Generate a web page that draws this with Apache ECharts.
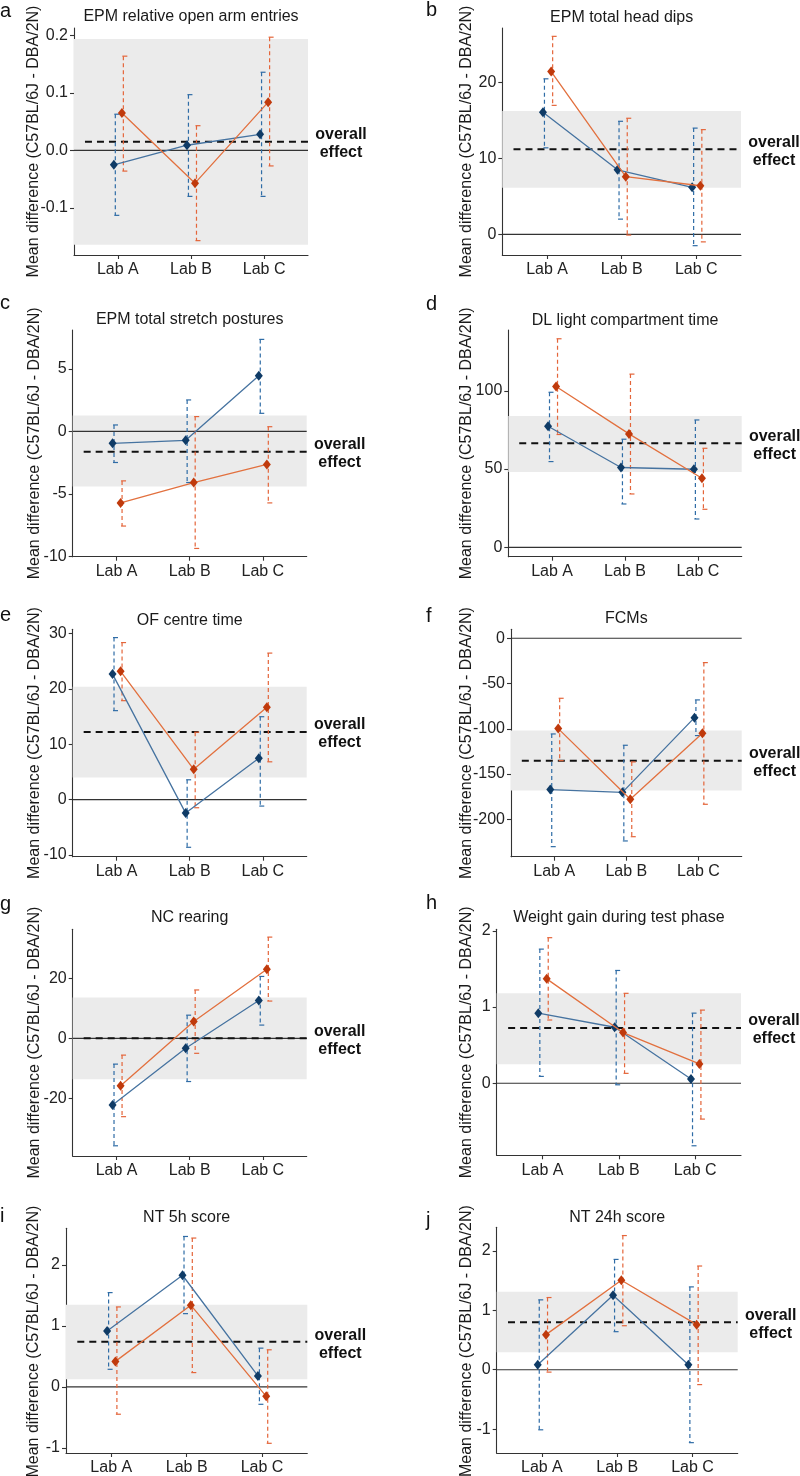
<!DOCTYPE html>
<html><head><meta charset="utf-8">
<script src="https://cdn.jsdelivr.net/npm/echarts@6/dist/echarts.min.js"></script>
<style>html,body{margin:0;padding:0;background:#fff}#c{width:800px;height:1476px}</style>
</head><body><div id="c"></div>
<script>
// ---------------- DATA ----------------
const labs = ['Lab A', 'Lab B', 'Lab C'];
const panelLetters = ['a','b','c','d','e','f','g','h','i','j'];
const panelTitles = ['EPM relative open arm entries','EPM total head dips','EPM total stretch postures',
  'DL light compartment time','OF centre time','FCMs','NC rearing','Weight gain during test phase',
  'NT 5h score','NT 24h score'];
const yAxisTitle = 'Mean difference (C57BL/6J - DBA/2N)';
const overallLabel = 'overall\neffect';

const blueMean = [[-0.025,0.009,0.028],[16.1,8.5,6.2],[-0.96,-0.72,4.44],[77.4,51.0,49.9],[22.7,-2.42,7.5],
  [-167.2,-170.2,-87.7],[-22.2,-3.3,12.6],[0.92,0.735,0.057],[0.916,1.83,0.179],[0.084,1.253,0.084]];
const blueLow = [[-0.113,-0.080,-0.080],[11.4,2.0,-1.5],[-2.49,-4.09,1.44],[54.8,27.7,18.1],[16.1,-8.6,-1.15],
  [-230.2,-223.9,-107.5],[-35.8,-14.4,4.4],[0.09,-0.02,-0.82],[0.287,1.20,-0.287],[-1.01,0.64,-1.226]];
const blueHigh = [[0.063,0.097,0.136],[20.5,14.9,14.0],[0.51,2.51,7.35],[99.1,69.1,81.4],[29.3,3.6,15.0],
  [-105.7,-118.2,-68.1],[-8.6,7.7,20.6],[1.76,1.48,0.92],[1.545,2.466,0.634],[1.175,1.855,1.393]];
const orangeMean = [[0.065,-0.057,0.084],[21.45,7.6,6.4],[-5.72,-4.09,-2.65],[102.8,72.5,44.1],[23.2,5.5,16.7],
  [-99.8,-177.9,-105.0],[-15.8,5.6,23.0],[1.37,0.665,0.254],[0.417,1.339,-0.157],[0.59,1.504,0.758]];
const orangeLow = [[-0.036,-0.157,-0.027],[17.0,-0.1,-1.0],[-7.57,-9.36,-5.72],[72.1,34.1,24.3],[17.9,-1.45,6.85],
  [-135.2,-219.2,-183.4],[-26.1,-5.0,12.4],[0.83,0.13,-0.47],[-0.45,0.233,-0.927],[-0.04,0.74,-0.25]];
const orangeHigh = [[0.164,0.043,0.197],[26.1,15.3,13.8],[-3.96,1.18,0.37],[133.3,110.7,63.3],[28.4,12.2,26.5],
  [-66.3,-136.6,-26.9],[-5.6,16.1,33.7],[1.91,1.18,0.96],[1.31,2.44,0.607],[1.214,2.256,1.744]];
const overallEst = [0.015, 11.2, -1.63, 66.5, 12.24, -135.2, 0.0, 0.726, 0.737, 0.80];
const overallLow = [-0.164, 6.15, -4.41, 48.2, 4.0, -168.3, -13.6, 0.25, 0.125, 0.295];
const overallHigh = [0.194, 16.26, 1.26, 84.0, 20.4, -102.0, 13.6, 1.18, 1.344, 1.31];

const yRanges = [[-0.182,0.213],[-2.73,27.2],[-10.02,8.1],[-6.0,138.9],[-10.3,30.8],
  [-241.3,9.9],[-39.2,36.3],[-0.945,2.02],[-1.086,2.6],[-1.4,2.395]];
const yTicks = [[-0.1,0,0.1,0.2],[0,10,20],[-10,-5,0,5],[0,50,100],[-10,0,10,20,30],
  [-200,-150,-100,-50,0],[-20,0,20],[0,1,2],[-1,0,1,2],[-1,0,1,2]];
const yTickLabels = [['-0.1','0.0','0.1','0.2'],['0','10','20'],['-10','-5','0','5'],['0','50','100'],
  ['-10','0','10','20','30'],['-200','-150','-100','-50','0'],['-20','0','20'],['0','1','2'],
  ['-1','0','1','2'],['-1','0','1','2']];
const xRange = [0.4, 3.6];
const overallLineSpan = [0.55, 3.6];

// ---------------- LAYOUT ----------------
const grids = [[74,28,234,227],[502.3,28,238.7,227],[72.7,330,234,226.7],[508.3,330,233.4,226.7],
  [72.7,629.3,234,227.4],[511,629.3,230.7,227.4],[72.7,929.3,234,226.7],[496.7,929.3,244.3,226],
  [66,1228.3,241.3,226.7],[496.7,1227.3,241,227.7]];
const titleY = [17,18,320,321,621,619,918,918,1218,1218];
const letterY = [11,10,303,304,615,616,904,903,1216,1220];
const yTitleX = [34,467,35,467,35,467,35,467,34,467];
const dodge = 0.055, barShift = 0.02;

const FONT = '"Liberation Sans", Arial, sans-serif';
const BLUE_PT = '#0f3b66', BLUE_LN = '#4673a0', BLUE_BAR = '#2f6ca6';
const OR_PT = '#c03a0c', OR_LN = '#e2703e', OR_BAR = '#e4653a';

function errRender(color) {
  return function (params, api) {
    const x = api.value(0), lo = api.value(1), hi = api.value(2);
    const t = api.coord([x, hi]), b = api.coord([x, lo]);
    const st = {stroke: color, lineWidth: 1.2};
    return {type: 'group', children: [
      {type: 'line', shape: {x1: t[0], y1: t[1], x2: b[0], y2: b[1]}, style: Object.assign({lineDash: [4, 3]}, st)},
      {type: 'line', shape: {x1: t[0] - 1, y1: t[1], x2: t[0] + 4, y2: t[1]}, style: st},
      {type: 'line', shape: {x1: b[0] - 1, y1: b[1], x2: b[0] + 4, y2: b[1]}, style: st}
    ]};
  };
}
function bandRender(params, api) {
  const p1 = api.coord([api.value(0), api.value(3)]);
  const p2 = api.coord([api.value(2), api.value(1)]);
  return {type: 'rect', shape: {x: p1[0], y: p1[1], width: p2[0] - p1[0], height: p2[1] - p1[1]},
    style: {fill: '#ebebeb'}};
}

const option = {animation: false, backgroundColor: '#fff', grid: [], xAxis: [], yAxis: [], series: [], graphic: []};

for (let p = 0; p < 10; p++) {
  const [L, T, W, H] = grids[p];
  option.grid.push({left: L, top: T, width: W, height: H, containLabel: false});
  option.xAxis.push({
    type: 'value', gridIndex: p, min: xRange[0], max: xRange[1],
    axisLine: {show: true, onZero: false, lineStyle: {color: '#333', width: 1.1}},
    axisTick: {show: true, length: 4, customValues: [1, 2, 3], lineStyle: {color: '#333', width: 1.1}},
    axisLabel: {show: true, customValues: [1, 2, 3], margin: 7, fontSize: 16, fontFamily: FONT, color: '#222',
      formatter: v => labs[Math.round(v) - 1]},
    splitLine: {show: false}
  });
  option.yAxis.push({
    type: 'value', gridIndex: p, min: yRanges[p][0], max: yRanges[p][1],
    axisLine: {show: true, onZero: false, lineStyle: {color: '#333', width: 1.1}},
    axisTick: {show: true, length: 4, customValues: yTicks[p], lineStyle: {color: '#333', width: 1.1}},
    axisLabel: {show: true, customValues: yTicks[p], margin: 6, fontSize: 16, fontFamily: FONT, color: '#222',
      formatter: v => {
        const i = yTicks[p].findIndex(t => Math.abs(t - v) < 1e-9);
        return i >= 0 ? yTickLabels[p][i] : '';
      }},
    splitLine: {show: false}
  });
  const ax = {xAxisIndex: p, yAxisIndex: p};
  option.series.push(Object.assign({
    type: 'custom', renderItem: bandRender, silent: true, z: 1,
    encode: {x: [0, 2], y: [1, 3]},
    data: [[xRange[0], overallLow[p], xRange[1], overallHigh[p]]]
  }, ax));
  option.series.push(Object.assign({
    type: 'line', symbol: 'none', silent: true, z: 2,
    lineStyle: {color: '#333', width: 1.2},
    data: [[xRange[0], 0], [xRange[1], 0]]
  }, ax));
  option.series.push(Object.assign({
    type: 'line', symbol: 'none', silent: true, z: 3,
    lineStyle: {color: '#111', width: 2, type: [7, 5]},
    data: [[overallLineSpan[0], overallEst[p]], [overallLineSpan[1], overallEst[p]]]
  }, ax));
  option.series.push(Object.assign({
    type: 'custom', renderItem: errRender(BLUE_BAR), silent: true, z: 4,
    encode: {x: 0, y: [1, 2]},
    data: [0, 1, 2].map(i => [i + 1 - dodge + barShift, blueLow[p][i], blueHigh[p][i]])
  }, ax));
  option.series.push(Object.assign({
    type: 'custom', renderItem: errRender(OR_BAR), silent: true, z: 4,
    encode: {x: 0, y: [1, 2]},
    data: [0, 1, 2].map(i => [i + 1 + dodge + barShift, orangeLow[p][i], orangeHigh[p][i]])
  }, ax));
  option.series.push(Object.assign({
    type: 'line', symbol: 'diamond', symbolSize: [8, 10], silent: true, z: 5,
    lineStyle: {color: BLUE_LN, width: 1.3}, itemStyle: {color: BLUE_PT},
    data: [0, 1, 2].map(i => [i + 1 - dodge, blueMean[p][i]])
  }, ax));
  option.series.push(Object.assign({
    type: 'line', symbol: 'diamond', symbolSize: [8, 10], silent: true, z: 6,
    lineStyle: {color: OR_LN, width: 1.3}, itemStyle: {color: OR_PT},
    data: [0, 1, 2].map(i => [i + 1 + dodge, orangeMean[p][i]])
  }, ax));

  // texts
  const estY = T + (yRanges[p][1] - overallEst[p]) / (yRanges[p][1] - yRanges[p][0]) * H;
  option.graphic.push({type: 'text', x: L + W + 33, y: estY + 2, silent: true,
    style: {text: overallLabel, fontSize: 16, fontWeight: 'bold', fontFamily: FONT, fill: '#111',
      align: 'center', verticalAlign: 'middle', lineHeight: 18}});
  option.graphic.push({type: 'text', x: L + W / 2, y: titleY[p], silent: true,
    style: {text: panelTitles[p], fontSize: 16, fontFamily: FONT, fill: '#1a1a1a', align: 'center', verticalAlign: 'middle'}});
  option.graphic.push({type: 'text', x: p % 2 === 0 ? 0 : 426, y: letterY[p], silent: true,
    style: {text: panelLetters[p], fontSize: 20, fontFamily: FONT, fill: '#111', align: 'left', verticalAlign: 'middle'}});
  option.graphic.push({type: 'text', x: yTitleX[p], y: T + H / 2, rotation: Math.PI / 2, silent: true,
    style: {text: yAxisTitle, fontSize: 16, fontFamily: FONT, fill: '#1a1a1a', align: 'center', verticalAlign: 'middle'}});
}

const chart = echarts.init(document.getElementById('c'), null, {renderer: 'canvas', width: 800, height: 1476});
chart.setOption(option);
</script>
</body></html>
